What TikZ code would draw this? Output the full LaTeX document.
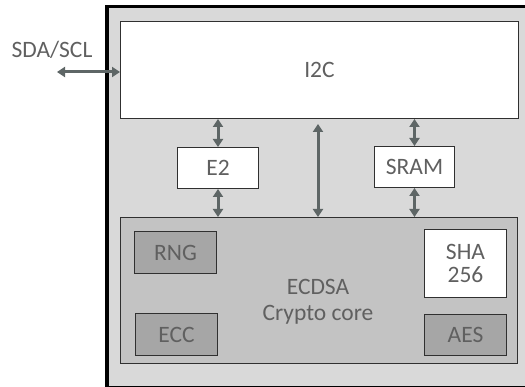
\documentclass[tikz,border=0pt]{standalone}
\usepackage{fontspec}
\setmainfont{Carlito}
\usetikzlibrary{arrows.meta}
\definecolor{outerfill}{HTML}{D9D9D9}
\definecolor{corefill}{HTML}{C3C3C3}
\definecolor{blkfill}{HTML}{A6A6A6}
\definecolor{txt}{HTML}{606060}
\definecolor{arr}{HTML}{5E6666}
\definecolor{edge}{HTML}{303030}
\tikzset{
  x=1pt,y=1pt,
  every node/.style={font=\fontsize{23.5}{26}\selectfont, text=txt},
  box/.style={draw=edge, line width=1pt, inner sep=0pt},
  whitebox/.style={box, fill=white},
  graybox/.style={box, fill=blkfill},
  biarrow/.style={draw=arr, line width=3pt, {Triangle[length=8pt,width=10pt]}-{Triangle[length=8pt,width=10pt]}},
}
\begin{document}
\begin{tikzpicture}
\useasboundingbox (0,0) rectangle (525,-387);
\clip (0,0) rectangle (525,-387);
% outer package
\draw[fill=outerfill, draw=black, line width=3.5pt] (106.75,-6.75) rectangle (540,-387.5);
% blocks
\node[whitebox, minimum width=398pt, minimum height=97pt, anchor=north west] (i2c) at (120,-21) {I2C};
\node[whitebox, minimum width=81pt, minimum height=41pt, anchor=north west] (e2) at (177,-147) {E2};
\node[whitebox, minimum width=80pt, minimum height=41pt, anchor=north west] (sram) at (374,-146) {SRAM};
\node[box, fill=corefill, minimum width=397pt, minimum height=146pt, anchor=north west] (core) at (120,-217) {};
\node[align=center] (ecdsa) at (318,-302) {ECDSA\\Crypto core};
\node[graybox, minimum width=82pt, minimum height=42pt, anchor=north west] (rng) at (134,-231) {RNG};
\node[graybox, minimum width=82pt, minimum height=42pt, anchor=north west] (ecc) at (135,-313) {ECC};
\node[whitebox, minimum width=82pt, minimum height=68pt, anchor=north west, align=center] (sha) at (424,-229) {SHA\\[-3pt]256};
\node[graybox, minimum width=82pt, minimum height=41pt, anchor=north west] (aes) at (424,-314) {AES};
% external
\node (sda) at (52,-50) {SDA/SCL};
\coordinate (ext) at (57,-72);
% arrows
\draw[biarrow] (ext) -- (ext -| i2c.west);
\draw[biarrow] (i2c.south -| e2) -- (e2.north);
\draw[biarrow] (e2.south) -- (core.north -| e2);
\draw[biarrow] (i2c.south -| sram) -- (sram.north);
\draw[biarrow] (sram.south) -- (core.north -| sram);
\draw[biarrow] ([yshift=-5pt]i2c.south -| ecdsa) -- (core.north -| ecdsa);
\end{tikzpicture}
\end{document}
